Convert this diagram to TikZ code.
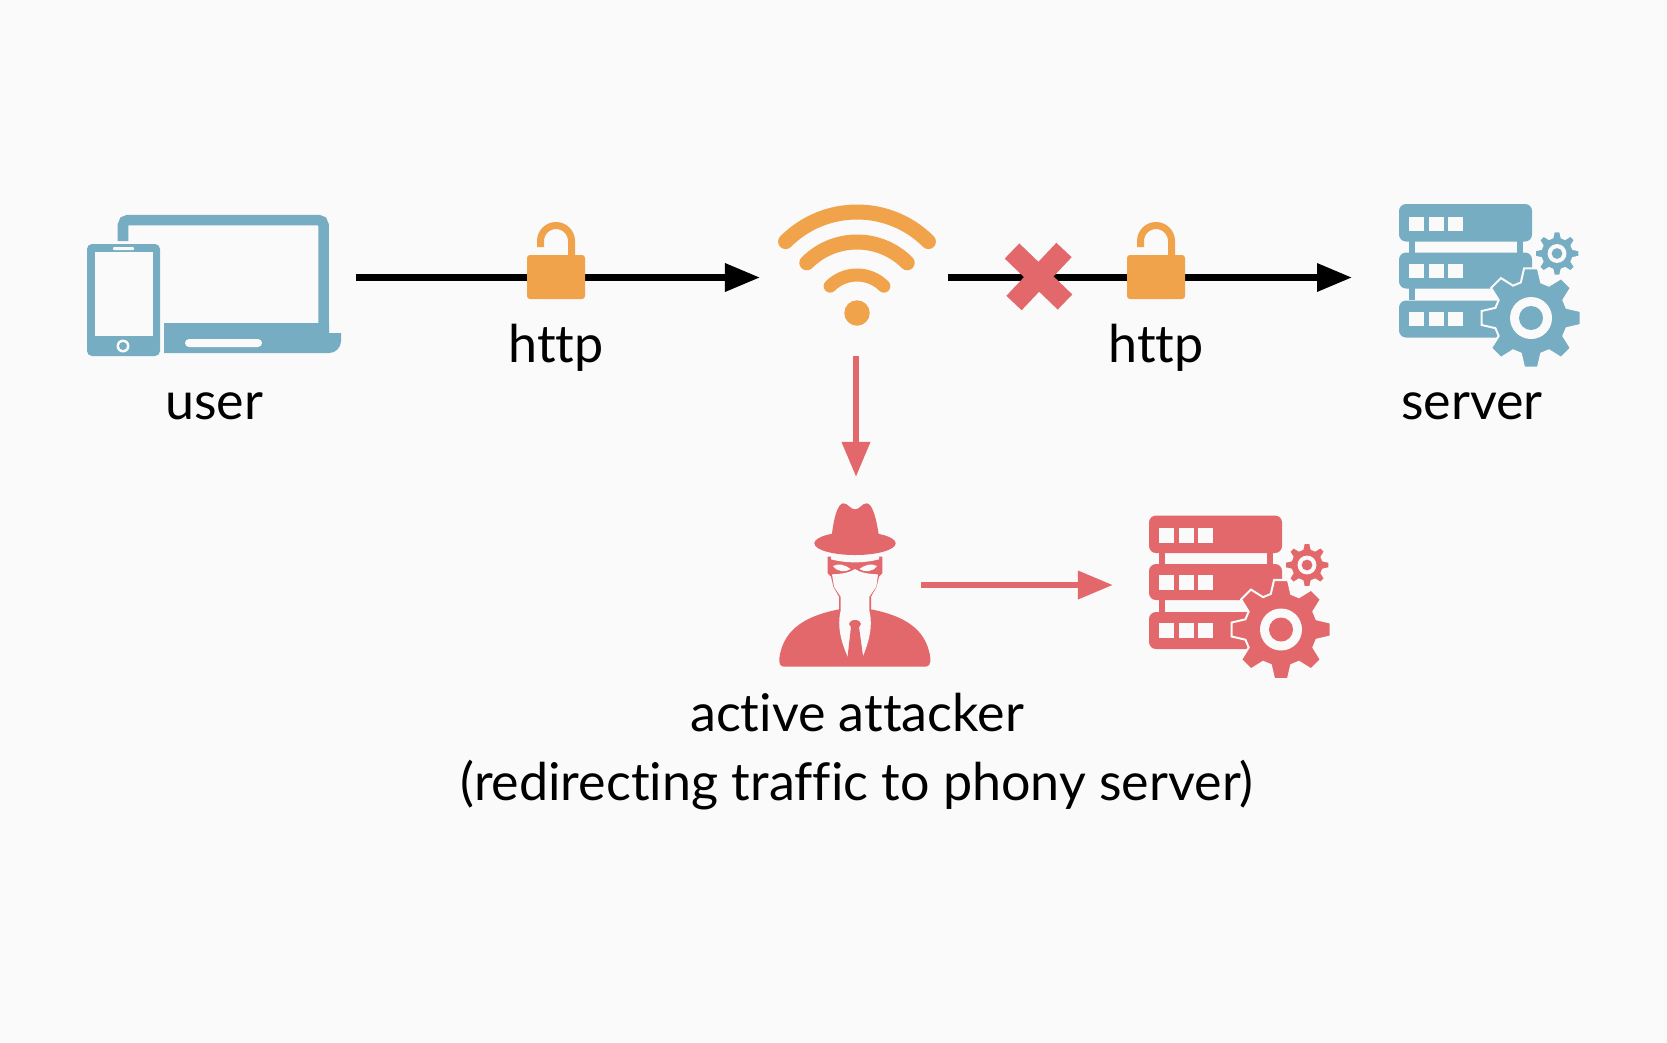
\documentclass[tikz,border=0pt]{standalone}
\usepackage{fontspec}
\setmainfont{Lato}[Ligatures=NoCommon]
\usetikzlibrary{arrows.meta,calc}
\definecolor{pagebg}{HTML}{FAFAFA}
\definecolor{iconteal}{HTML}{76ADC2}
\definecolor{iconorange}{HTML}{F0A34A}
\definecolor{iconred}{HTML}{E3686B}
\tikzset{
  textlabel/.style={anchor=base, inner sep=0pt, font=\fontsize{14.8pt}{18pt}\selectfont},
  flow/.style={-{Triangle[length=.35cm,width=.27cm]}, line width=.065cm},
  rack/.style={rounded corners=.07cm},
}
\newcommand{\gearicon}[4]{% x, y, radius, colour
  \begin{scope}[shift={(#1,#2)},scale=#3/49]
    \filldraw[fill=#4, draw=pagebg, line width=.02cm] (-16:37)
      foreach \a in {0,45,...,315} {-- (\a-16:37) -- (\a-8:50) -- (\a+8:50) -- (\a+16:37)} -- cycle;
    \fill[pagebg] (0,0) circle (21);
    \fill[#4] (0,0) circle (12);
  \end{scope}}
\newcommand{\servericon}[3]{% x shift, y shift, colour
  \begin{scope}[shift={(#1,#2)}]
    \fill[#3] (1409,241) rectangle (1415,300);
    \fill[#3] (1517,241) rectangle (1523,300);
    \foreach \ya/\yb in {204/241.5,252.5/288.5,300.5/337.5} {
      \fill[#3, rack] (1399,\ya) rectangle (1532,\yb);
    }
    \foreach \ya in {216.5,263.5,311.5} {
      \foreach \xa in {1409,1429,1448} {
        \fill[pagebg] (\xa,\ya) rectangle ++(14.5,14.5);
      }
    }
    \gearicon{1531}{318}{49}{#3}
    \gearicon{1557}{253.5}{22}{#3}
  \end{scope}}
\newcommand{\lockicon}[1]{% x centre
  \begin{scope}[shift={(#1,0)}]
    \draw[iconorange, line width=.07cm] (-15.5,247) -- (-15.5,241)
      arc[start angle=180, end angle=360, radius=15.5] -- (15.5,258);
    \fill[iconorange, rounded corners=.03cm] (-29,255) rectangle (29,299);
  \end{scope}}

\begin{document}
\begin{tikzpicture}[x=.01cm, y=-.01cm]
  \fill[pagebg] (0,0) rectangle (1667,1042);

  % anchors of the arrows
  \coordinate (userout)   at (356,277.5);
  \coordinate (wifiin)    at (760,277.5);
  \coordinate (wifiout)   at (948,277.5);
  \coordinate (serverin)  at (1352,277.5);
  \coordinate (wifidown)  at (856,356);
  \coordinate (attacktop) at (856,477);
  \coordinate (attackout) at (921,585);
  \coordinate (phonyin)   at (1113,585);

  \draw[flow, black] (userout) -- (wifiin);
  \draw[flow, black] (wifiout) -- (serverin);
  \draw[flow, iconred] (wifidown) -- (attacktop);
  \draw[flow, iconred] (attackout) -- (phonyin);

  % laptop and phone
  \draw[iconteal, line width=.105cm, rounded corners=.05cm] (123,241) -- (123,220) -- (323.5,220) -- (323.5,326);
  \fill[iconteal] (164,323) -- (329,323) -- (329,333) -- (341,333)
    [rounded corners=.12cm] -- (341,353) [sharp corners] -- (164,353) -- cycle;
  \fill[pagebg, rounded corners=.04cm] (185,339) rectangle (262,347);
  \fill[iconteal, rounded corners=.05cm] (87,244) rectangle (160,356);
  \fill[pagebg] (95,252) rectangle (153,336);
  \fill[pagebg, rounded corners=.01cm] (113,247) rectangle (134,250);
  \fill[pagebg] (123,346) circle (6.5);
  \fill[iconteal] (123,346) circle (4);

  \lockicon{556}
  \lockicon{1156}

  % wifi
  \coordinate (wifidot) at (857,313);
  \fill[iconorange] (wifidot) circle (12.7);
  \foreach \rad/\wid in {101/.15cm,71/.15cm,38/.13cm} {
    \draw[iconorange, line width=\wid, line cap=round] ($(wifidot)+(-135:\rad)$)
      arc[start angle=-135, end angle=-45, radius=\rad];
  }

  % cross
  \draw[iconred, line width=.21cm] (1012,251) -- (1065,302);
  \draw[iconred, line width=.21cm] (1064,250) -- (1014,303);

  \servericon{0}{0}{iconteal}
  \servericon{-250}{311.5}{iconred}

  % attacker
  \begin{scope}[shift={(760,490)}, scale=1/3]
    \fill[iconred] (72,530) .. controls (60,530) and (57,520) .. (58,505)
      .. controls (70,410) and (150,375) .. (237,358) -- (333,358)
      .. controls (420,375) and (500,410) .. (511,505)
      .. controls (512,520) and (508,530) .. (496,530) -- cycle;
    \fill[iconred] (203,200) -- (203,250) -- (213,260) -- (220,290) -- (237,320) -- (237,360)
      -- (333,360) -- (333,320) -- (350,290) -- (357,260) -- (367,250) -- (367,200) -- cycle;
    \fill[pagebg] (216,253) .. controls (245,252) and (270,248) .. (285,237)
      .. controls (300,248) and (325,252) .. (354,253) -- (349,290) -- (328,320) -- (328,362)
      .. controls (340,410) and (325,460) .. (309,498) -- (285,400) -- (263,500)
      .. controls (245,460) and (230,410) .. (242,362) -- (242,320) -- (222,290) -- cycle;
    \fill[pagebg] (213,190) -- (213,208) .. controls (260,220) and (310,220) .. (357,208) -- (357,190) -- cycle;
    \fill[pagebg] (219,228) .. controls (235,219) and (255,224) .. (272,237) .. controls (255,248) and (232,246) .. cycle;
    \fill[pagebg] (351,228) .. controls (335,219) and (315,224) .. (298,237) .. controls (315,248) and (338,246) .. cycle;
    \fill[iconred] (285,402) ellipse (18 and 12);
    \fill[iconred] (273,410) -- (297,410) -- (309,498) -- (309,505) -- (263,505) -- (263,498) -- cycle;
    \fill[iconred] (285,160) ellipse (122 and 35);
    \fill[iconred] (215,140) .. controls (220,90) and (232,40) .. (250,40)
      .. controls (265,40) and (270,58) .. (285,58) .. controls (300,58) and (305,40) .. (320,40)
      .. controls (338,40) and (350,90) .. (357,140) -- cycle;
  \end{scope}

  \node[textlabel] (userlabel)    at (214,419)  {user};
  \node[textlabel] (httpleft)     at (556,362)  {http};
  \node[textlabel] (httpright)    at (1156,362) {http};
  \node[textlabel] (serverlabel)  at (1472,419) {server};
  \node[textlabel] (attackerlabel) at (857,731) {active attacker};
  \node[textlabel] (phonylabel)   at (857,800)  {(redirecting traffic to phony server)};
\end{tikzpicture}
\end{document}
